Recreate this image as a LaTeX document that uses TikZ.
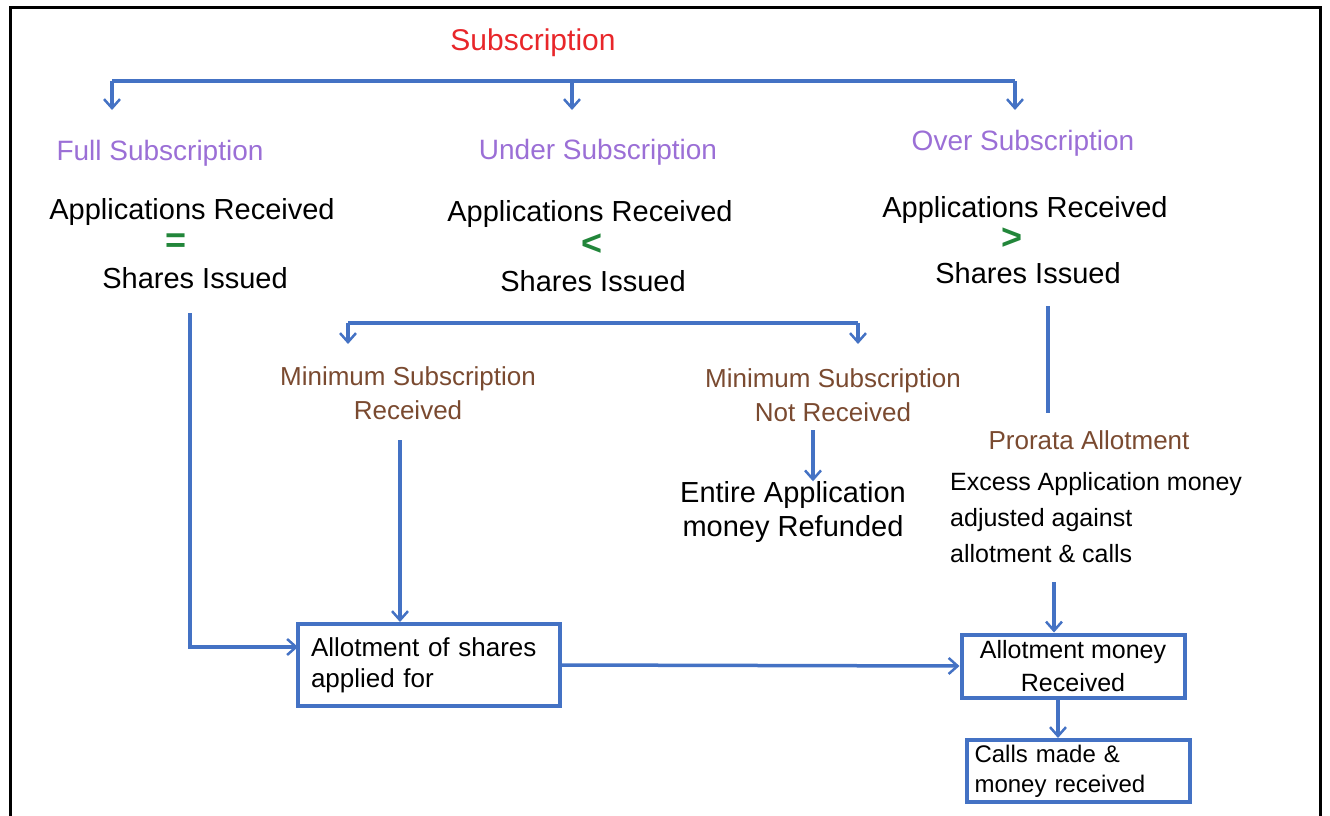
\documentclass[tikz,border=0pt]{standalone}
\usepackage{fontspec}
\setmainfont{Liberation Sans}
\usetikzlibrary{arrows.meta,calc}
\definecolor{cblue}{HTML}{4472C4}
\definecolor{cpurple}{HTML}{9B6FD6}
\definecolor{cbrown}{HTML}{7A4A30}
\definecolor{cgreen}{HTML}{22863A}
\definecolor{cred}{HTML}{E8262A}
\begin{document}
\begin{tikzpicture}[x=1pt,y=-1pt,
  txt/.style={font=\fontsize{29}{34}\selectfont, inner sep=0pt, align=center},
  head/.style={txt, text=cpurple, font=\fontsize{28}{34}\selectfont},
  sub/.style={txt, text=cbrown, font=\fontsize{26}{34}\selectfont},
  rel/.style={font=\fontsize{36}{36}\selectfont\bfseries, text=cgreen, inner sep=0pt},
  link/.style={draw=cblue, line width=3.5pt},
  arr/.style={link, -{Straight Barb[length=9pt,width=16pt,line width=2.5pt]}},
  boxnode/.style={draw=cblue, line width=4pt, font=\fontsize{26}{35}\selectfont, inner sep=10pt}
]
\useasboundingbox (0,0) rectangle (1330,816);
% frame
\draw[line width=3pt] (10,830) -- (10,8) -- (1320,8) -- (1320,830);

% title
\node[txt, text=cred, font=\fontsize{30}{34}\selectfont] (title) at (533,43) {Subscription};

% top bar
\coordinate (tL) at (112,81);
\coordinate (tM) at (572,81);
\coordinate (tR) at (1015,81);
\coordinate (eL) at (112,110);
\coordinate (eM) at (572,110);
\coordinate (eR) at (1015,110);
\draw[link] (tL) -- (tR);
\draw[arr] (tL) -- (eL);
\draw[arr] (tM) -- (eM);
\draw[arr] (tR) -- (eR);

% headings
\node[head] (full) at (160,153) {Full Subscription};
\node[head] (under) at (598,152) {Under Subscription};
\node[head] (over) at (1023,143) {Over Subscription};

% left column
\node[txt] (app1) at (192,212) {Applications Received};
\node[rel] (eq) at (176,243) {=};
\node[txt] (sh1) at (195,278) {Shares Issued};
% middle column
\node[txt] (app2) at (590,214) {Applications Received};
\node[rel] (lt) at (592,245) {<};
\node[txt] (sh2) at (593,281) {Shares Issued};
% right column
\node[txt] (app3) at (1025,210) {Applications Received};
\node[rel] (gt) at (1012,239) {>};
\node[txt] (sh3) at (1028,273) {Shares Issued};

% middle bar
\coordinate (mL) at (348,323);
\coordinate (mR) at (858,323);
\coordinate (mLe) at (348,344);
\coordinate (mRe) at (858,344);
\draw[link] (mL) -- (mR);
\draw[arr] (mL) -- (mLe);
\draw[arr] (mR) -- (mRe);

\node[sub] (minrec) at (408,393) {Minimum Subscription\\Received};
\node[sub] (minnot) at (833,395) {Minimum Subscription\\Not Received};
\node[txt] (refund) at (793,512) {Entire Application\\money Refunded};
\coordinate (rs) at (813,430);
\draw[arr] (rs) -- (refund.north -| rs);

% right branch
\coordinate (ovs) at (1048,306);
\coordinate (ove) at (1048,413);
\draw[link] (ovs) -- (ove);
\node[sub] (prorata) at (1089,440) {Prorata Allotment};
\node[txt, align=left, anchor=north west, font=\fontsize{25}{36}\selectfont] (excess) at (950,472) {Excess Application money\\adjusted against\\allotment \& calls};

% boxes
\node[boxnode, minimum width=262pt, minimum height=82pt, text width=236pt, align=left, inner sep=8pt] (box1) at (429,665) {\raisebox{-4pt}{Allotment of shares}\\applied for};
\node[boxnode, minimum width=223pt, minimum height=63pt, align=center, inner sep=3pt, font=\fontsize{25}{33}\selectfont] (box2) at (1073,666) {Allotment money\\Received};
\node[boxnode, minimum width=223pt, minimum height=62pt, text width=207pt, align=left, inner sep=3pt, font=\fontsize{24}{30}\selectfont] (box3) at (1078,771) {Calls made \&\\money received};

% connectors to box1
\coordinate (ls) at (190,313);
\coordinate (lb) at (298,647);
\draw[arr] (ls) |- (lb);
\coordinate (ms) at (400,440);
\draw[arr] (ms) -- (box1.north -| ms);

% box1 -> box2
\draw[arr] (box1.east) -- (box2.west);
% excess -> box2
\coordinate (es) at (1054,582);
\draw[arr] (es) -- (box2.north -| es);
% box2 -> box3
\draw[arr] (box2.south -| 1058,0) -- (box3.north -| 1058,0);
\end{tikzpicture}
\end{document}
